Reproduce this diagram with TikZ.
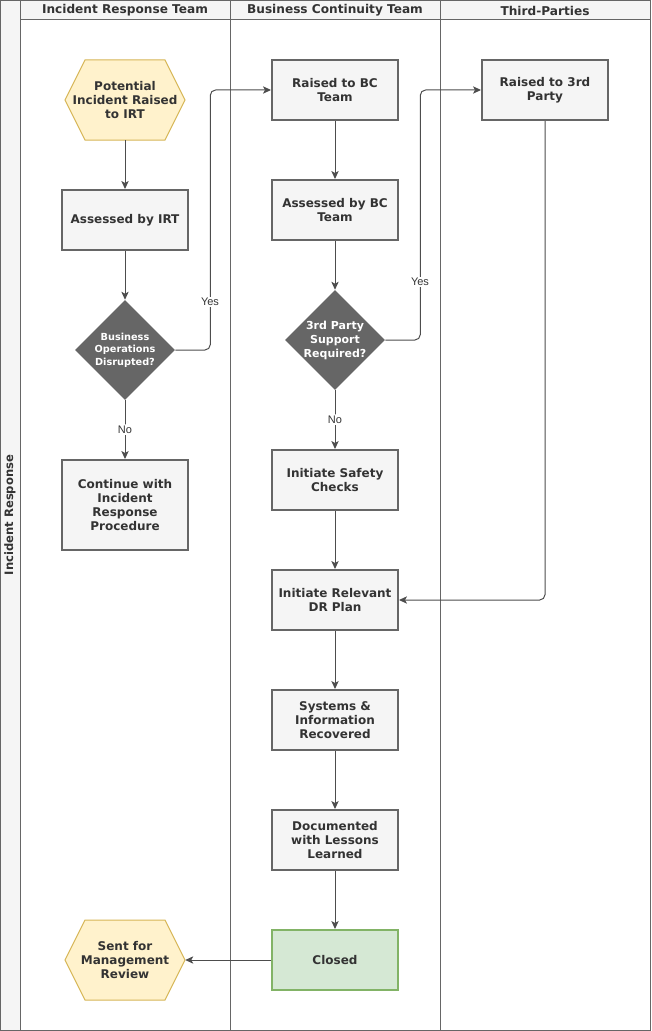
\documentclass[tikz,border=0pt]{standalone}
\usepackage{fontspec}
\setmainfont{DejaVu Sans}
\newfontfamily\arialfont{Liberation Sans}
\usetikzlibrary{shapes.geometric,arrows.meta}

\definecolor{linegray}{HTML}{666666}
\definecolor{fillgray}{HTML}{F5F5F5}
\definecolor{textgray}{HTML}{333333}
\definecolor{arrowgray}{HTML}{4D4D4D}
\definecolor{hexfill}{HTML}{FFF2CC}
\definecolor{hexline}{HTML}{D6B656}
\definecolor{donefill}{HTML}{D5E8D4}
\definecolor{doneline}{HTML}{82B366}

\tikzset{
  lane/.style={draw=linegray, line width=0.75pt},
  lanehead/.style={font=\bfseries\fontsize{9.1}{10}\selectfont, text=textgray},
  process/.style={rectangle, draw=linegray, line width=1.5pt, fill=fillgray, minimum width=94.5pt, minimum height=45pt, align=center, text=textgray, inner sep=1pt, font=\bfseries\fontsize{9}{10.5}\selectfont},
  done/.style={process, draw=doneline, fill=donefill},
  hexshape/.style={draw=hexline, fill=hexfill, line width=0.75pt},
  hextext/.style={minimum width=90pt, minimum height=60pt, align=center, text=textgray, inner sep=0pt, font=\bfseries\fontsize{9}{10.5}\selectfont},
  decision/.style={diamond, aspect=1, fill=linegray, minimum width=75pt, minimum height=75pt, inner sep=0pt},
  dectext/.style={align=center, text=white, font=\bfseries\fontsize{8.25}{10.5}\selectfont},
  flow/.style={draw=arrowgray, line width=0.75pt, -{Stealth[length=6pt,width=5.5pt,inset=1.5pt]}, rounded corners=4pt},
  edgelabel/.style={fill=white, inner sep=1pt, text=textgray, font=\arialfont\fontsize{8.25}{10}\selectfont}
}

\begin{document}
\begin{tikzpicture}[x=0.75pt, y=-0.75pt]
\useasboundingbox (0,0) rectangle (651,1031);

% pool and lanes
\fill[fillgray] (0,0) rectangle (20,1030);
\fill[fillgray] (20,0) rectangle (650,20);
\draw[lane] (0.5,0.5) rectangle (650.5,1030.5);
\draw[lane] (20,0) -- (20,1030);
\draw[lane] (20,20) -- (650,20);
\foreach \x in {230,440} \draw[lane] (\x,0) -- (\x,1030);

\node[lanehead, rotate=90, font=\bfseries\fontsize{8.7}{10}\selectfont] (pool) at (10,515) {Incident Response};
\foreach \x/\name in {125/Incident Response Team, 335/Business Continuity Team, 545/Third-Parties}
  \node[lanehead] (head\x) at (\x,10.5) {\name};

% incident response team
\draw[hexshape] (65,100) -- (85,60) -- (165,60) -- (185,100) -- (165,140) -- (85,140) -- cycle;
\node[hextext] (potential) at (125,100) {Potential\\Incident Raised\\to IRT};
\node[process] (assessirt) at (125,220) {Assessed by IRT};
\node[decision] (disrupted) at (125,350) {};
\node[dectext, font=\bfseries\fontsize{7.3}{9.5}\selectfont] (disruptedtext) at (disrupted) {Business\\Operations\\Disrupted?};
\node[process, minimum height=67.5pt] (continue) at (125,505) {Continue with\\Incident\\Response\\Procedure};
\draw[hexshape] (65,960) -- (85,920) -- (165,920) -- (185,960) -- (165,1000) -- (85,1000) -- cycle;
\node[hextext] (review) at (125,960) {Sent for\\Management\\Review};

% business continuity team
\node[process] (raisedbc) at (335,90) {Raised to BC\\Team};
\node[process] (assessbc) at (335,210) {Assessed by BC\\Team};
\node[decision] (support) at (335,340) {};
\node[dectext] (supporttext) at (support) {3rd Party\\Support\\Required?};
\node[process] (safety) at (335,480) {Initiate Safety\\Checks};
\node[process] (drplan) at (335,600) {Initiate Relevant\\DR Plan};
\node[process] (recovered) at (335,720) {Systems \&\\Information\\Recovered};
\node[process] (lessons) at (335,840) {Documented\\with Lessons\\Learned};
\node[done] (closed) at (335,960) {Closed};

% third-parties
\node[process] (raised3rd) at (545,90) {Raised to 3rd\\Party};

% connectors
\draw[flow] (potential) -- (assessirt);
\draw[flow] (assessirt) -- (disrupted);
\draw[flow] (disrupted.east) -- ++(35,0) |- (raisedbc.west);
\node[edgelabel] (yesbc) at (210,302) {Yes};
\draw[flow] (disrupted) -- node[edgelabel] (nocont) {No} (continue);
\draw[flow] (raisedbc) -- (assessbc);
\draw[flow] (assessbc) -- (support);
\draw[flow] (support.east) -- ++(35,0) |- (raised3rd.west);
\node[edgelabel] (yes3rd) at (420,282) {Yes};
\draw[flow] (support) -- node[edgelabel] (nosafety) {No} (safety);
\draw[flow] (safety) -- (drplan);
\draw[flow] (raised3rd.south) |- (drplan.east);
\draw[flow] (drplan) -- (recovered);
\draw[flow] (recovered) -- (lessons);
\draw[flow] (lessons) -- (closed);
\draw[flow] (closed) -- (review.east);

\end{tikzpicture}
\end{document}
